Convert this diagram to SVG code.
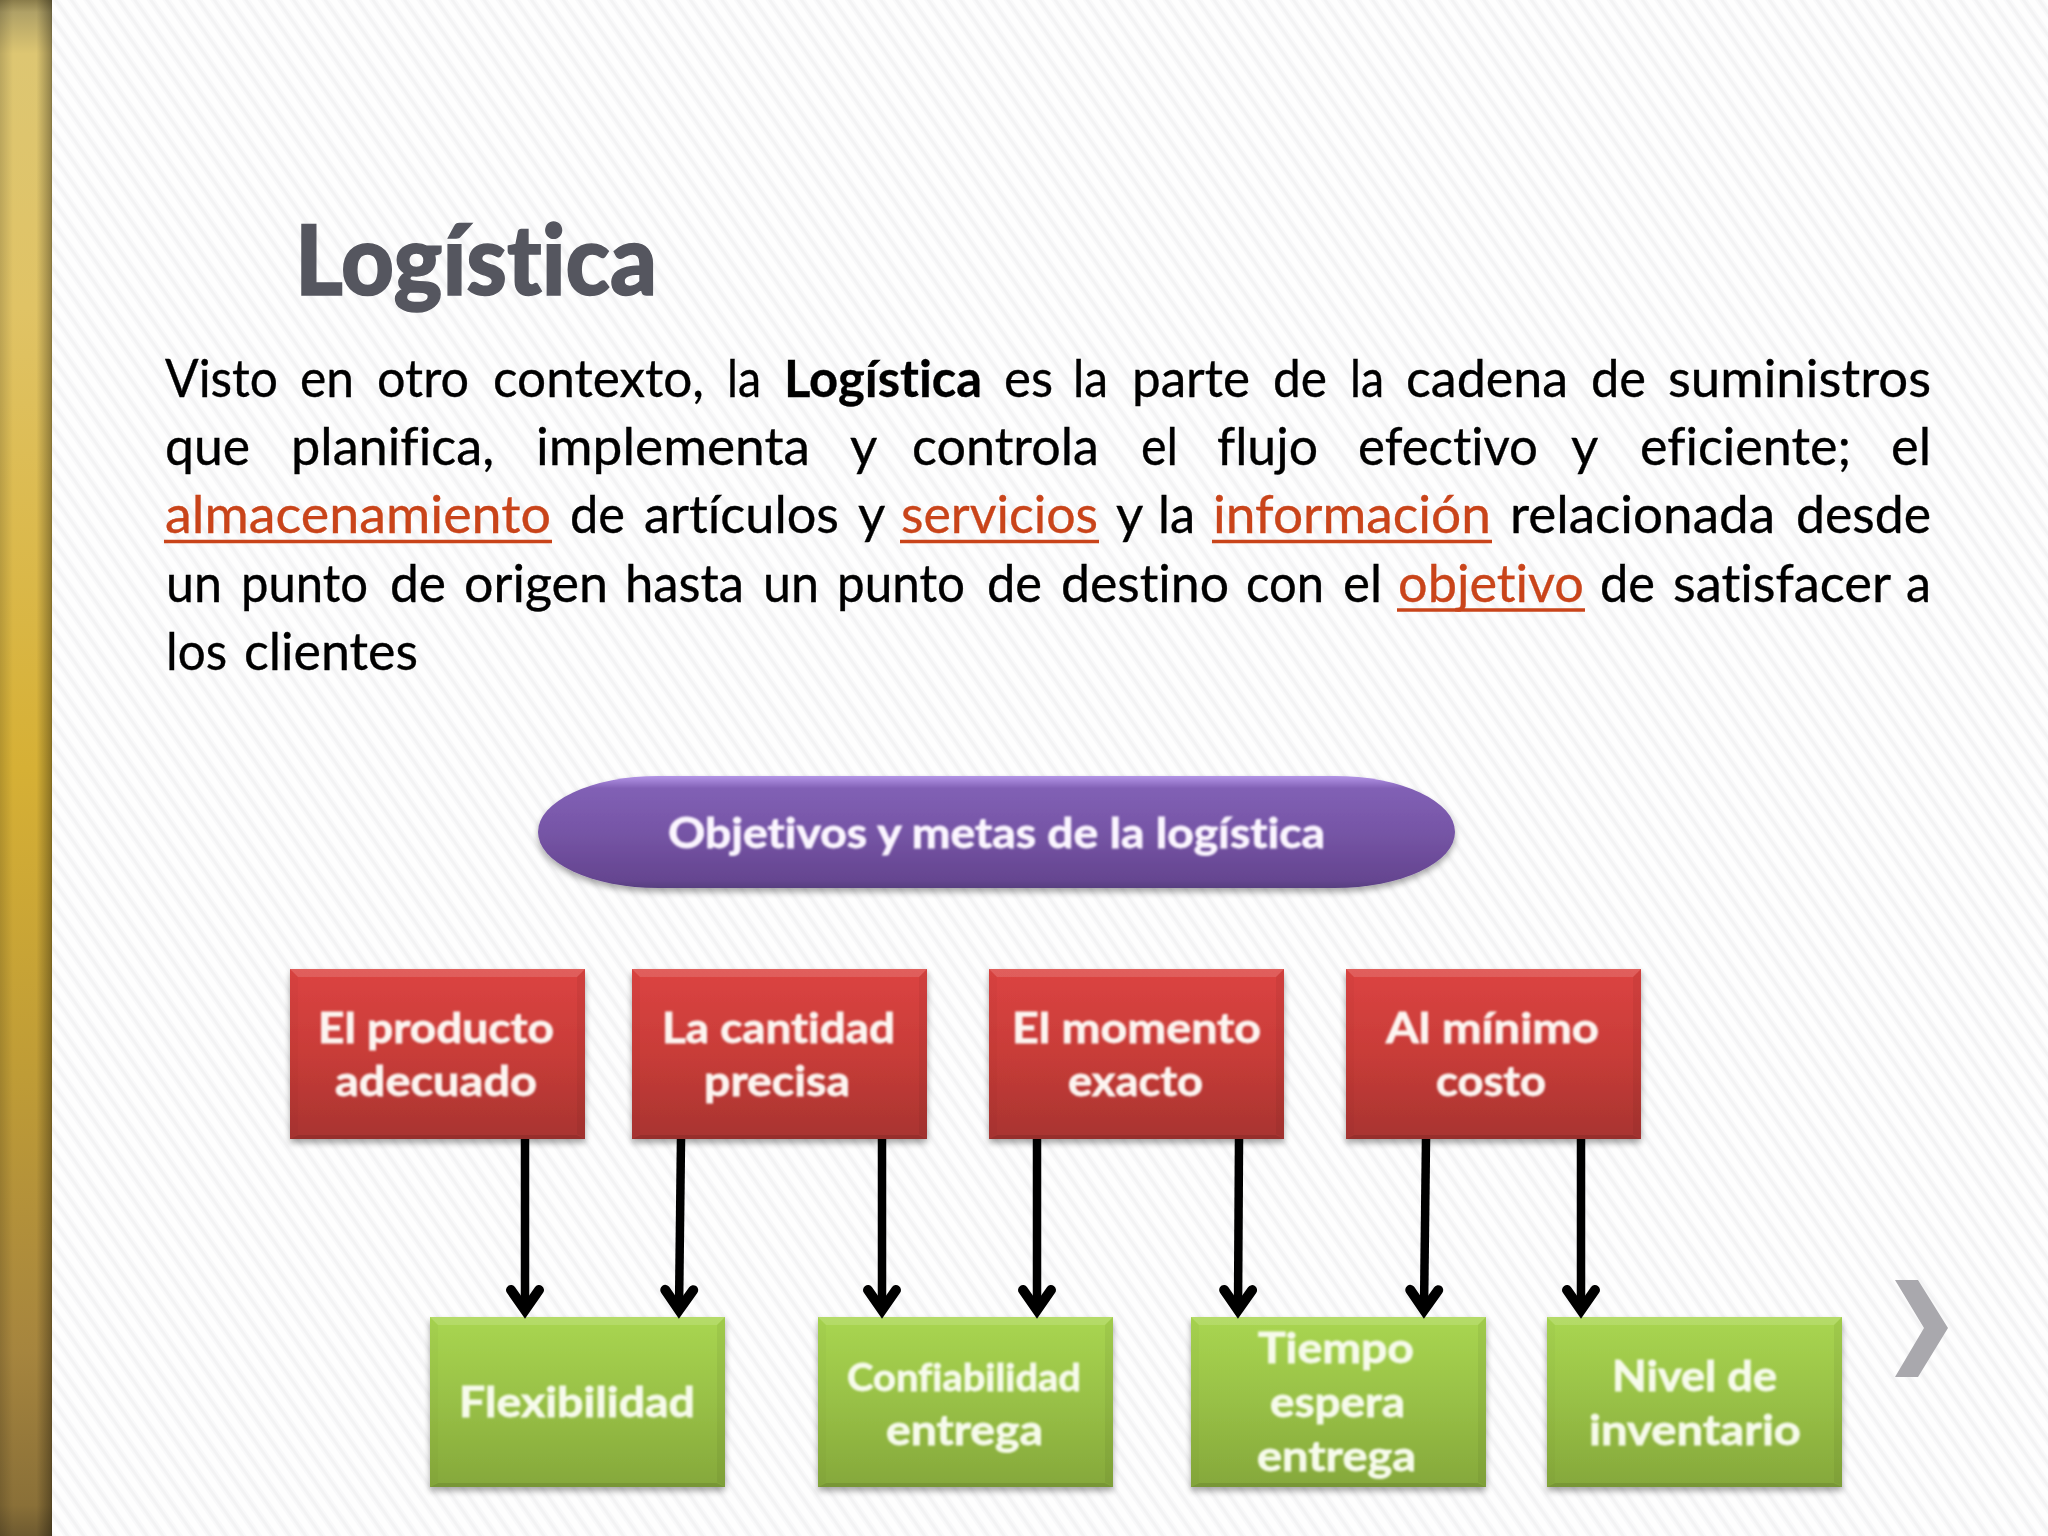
<svg xmlns="http://www.w3.org/2000/svg" width="2048" height="1536" viewBox="0 0 2048 1536">
<defs>
<style>
text{font-family:"Lato","Carlito","Liberation Sans",sans-serif;font-variant-ligatures:none}
.b{font-size:52.5px;fill:#000;stroke:#000;stroke-width:.35}
.l{fill:#C9441A;stroke:#C9441A}
.u{stroke:#C9441A;stroke-width:3.5}
.t{font-size:42px;font-weight:700;fill:#FDF4F0;stroke:#FDF4F0;stroke-width:.8;filter:url(#soft)}
.tg{fill:#F6FBEA;stroke:#F6FBEA}
.tp{fill:#FBF5FF;stroke:#FBF5FF}
.a{stroke:#000;stroke-width:8.5;fill:none;marker-end:url(#ah)}
.red{fill:url(#gr)}
.grn{fill:url(#gg)}
</style>
<pattern id="bg" width="13" height="13" patternUnits="userSpaceOnUse" patternTransform="rotate(-35)">
<rect width="13" height="13" fill="#FEFEFE"/><rect x="3" width="7" height="13" fill="#F9F9FA"/><rect x="5" width="3" height="13" fill="#F3F3F4"/>
</pattern>
<linearGradient id="bv" x1="0" y1="0" x2="0" y2="1">
<stop offset="0" stop-color="#8A7C4A"/><stop offset=".008" stop-color="#B0A166"/><stop offset=".035" stop-color="#DDC672"/><stop offset=".2" stop-color="#E0C365"/><stop offset=".5" stop-color="#D6B035"/><stop offset=".7" stop-color="#BF9C36"/><stop offset=".88" stop-color="#A6853E"/><stop offset=".98" stop-color="#8A7038"/><stop offset="1" stop-color="#6E5A30"/>
</linearGradient>
<linearGradient id="bh"><stop offset="0" stop-color="#000" stop-opacity=".16"/><stop offset=".25" stop-color="#000" stop-opacity="0"/><stop offset=".7" stop-color="#000" stop-opacity="0"/><stop offset=".97" stop-color="#000" stop-opacity=".32"/><stop offset="1" stop-color="#000" stop-opacity=".42"/></linearGradient>
<linearGradient id="gr" x1="0" y1="0" x2="0" y2="1"><stop offset="0" stop-color="#DC4442"/><stop offset=".5" stop-color="#C83C38"/><stop offset="1" stop-color="#A83430"/></linearGradient>
<linearGradient id="gg" x1="0" y1="0" x2="0" y2="1"><stop offset="0" stop-color="#A9D651"/><stop offset=".5" stop-color="#98C046"/><stop offset="1" stop-color="#85A83B"/></linearGradient>
<linearGradient id="gp" x1="0" y1="0" x2="0" y2="1"><stop offset="0" stop-color="#B295E6"/><stop offset=".035" stop-color="#A484D8"/><stop offset=".11" stop-color="#8160B5"/><stop offset=".5" stop-color="#7655A6"/><stop offset=".93" stop-color="#654590"/><stop offset="1" stop-color="#574080"/></linearGradient>
<filter id="soft" x="-5%" y="-20%" width="110%" height="140%"><feGaussianBlur stdDeviation=".9"/></filter>
<filter id="sh" x="-5%" y="-5%" width="110%" height="115%"><feGaussianBlur in="SourceAlpha" stdDeviation="3"/><feOffset dy="4"/><feComponentTransfer><feFuncA type="linear" slope=".35"/></feComponentTransfer><feMerge><feMergeNode/><feMergeNode in="SourceGraphic"/></feMerge></filter>
<g id="bevel">
<polygon points="0,0 295,0 287,8 8,8" fill="#fff" fill-opacity=".14"/>
<polygon points="0,0 8,8 8,165 0,170" fill="#000" fill-opacity=".02"/>
<polygon points="295,0 287,8 287,165 295,170" fill="#000" fill-opacity=".05"/>
<polygon points="0,170 8,166 287,166 295,170" fill="#000" fill-opacity=".1"/>
</g>
<marker id="ah" markerUnits="userSpaceOnUse" markerWidth="48" markerHeight="48" refX="32" refY="24" orient="auto" overflow="visible">
<path d="M12 10 L32 24 L12 38" fill="none" stroke="#000" stroke-width="10" stroke-linecap="round" stroke-miterlimit="8"/>
</marker>
</defs>
<rect width="2048" height="1536" fill="url(#bg)"/>
<rect width="52" height="1536" fill="url(#bv)"/>
<rect width="52" height="1536" fill="url(#bh)"/>
<text id="title" x="295" y="295" font-size="97" font-weight="900" fill="#55565F" stroke="#55565F" stroke-width="1.5" textLength="362" lengthAdjust="spacingAndGlyphs">Logística</text>
<g id="body">
<text class="b" y="397"><tspan x="165" textLength="113" lengthAdjust="spacingAndGlyphs">Visto</tspan> <tspan x="300" textLength="54" lengthAdjust="spacingAndGlyphs">en</tspan> <tspan x="377" textLength="92" lengthAdjust="spacingAndGlyphs">otro</tspan> <tspan x="493" textLength="211" lengthAdjust="spacingAndGlyphs">contexto,</tspan> <tspan x="727" textLength="34" lengthAdjust="spacingAndGlyphs">la</tspan> <tspan x="784" textLength="198" lengthAdjust="spacingAndGlyphs" font-weight="700">Logística</tspan> <tspan x="1004" textLength="49" lengthAdjust="spacingAndGlyphs">es</tspan> <tspan x="1073" textLength="35" lengthAdjust="spacingAndGlyphs">la</tspan> <tspan x="1132" textLength="118" lengthAdjust="spacingAndGlyphs">parte</tspan> <tspan x="1273" textLength="54" lengthAdjust="spacingAndGlyphs">de</tspan> <tspan x="1350" textLength="34" lengthAdjust="spacingAndGlyphs">la</tspan> <tspan x="1406" textLength="162" lengthAdjust="spacingAndGlyphs">cadena</tspan> <tspan x="1591" textLength="55" lengthAdjust="spacingAndGlyphs">de</tspan> <tspan x="1668" textLength="263" lengthAdjust="spacingAndGlyphs">suministros</tspan></text>
<text class="b" y="465"><tspan x="165" textLength="85" lengthAdjust="spacingAndGlyphs">que</tspan> <tspan x="291" textLength="203" lengthAdjust="spacingAndGlyphs">planifica,</tspan> <tspan x="536" textLength="274" lengthAdjust="spacingAndGlyphs">implementa</tspan> <tspan x="850" textLength="26" lengthAdjust="spacingAndGlyphs">y</tspan> <tspan x="912" textLength="187" lengthAdjust="spacingAndGlyphs">controla</tspan> <tspan x="1141" textLength="37" lengthAdjust="spacingAndGlyphs">el</tspan> <tspan x="1217" textLength="101" lengthAdjust="spacingAndGlyphs">flujo</tspan> <tspan x="1358" textLength="180" lengthAdjust="spacingAndGlyphs">efectivo</tspan> <tspan x="1571" textLength="26" lengthAdjust="spacingAndGlyphs">y</tspan> <tspan x="1640" textLength="211" lengthAdjust="spacingAndGlyphs">eficiente;</tspan> <tspan x="1891" textLength="40" lengthAdjust="spacingAndGlyphs">el</tspan></text>
<text class="b" y="533"><tspan class="l" x="165" textLength="386" lengthAdjust="spacingAndGlyphs">almacenamiento</tspan> <tspan x="570" textLength="55" lengthAdjust="spacingAndGlyphs">de</tspan> <tspan x="644" textLength="195" lengthAdjust="spacingAndGlyphs">artículos</tspan> <tspan x="858" textLength="26" lengthAdjust="spacingAndGlyphs">y</tspan> <tspan class="l" x="901" textLength="197" lengthAdjust="spacingAndGlyphs">servicios</tspan> <tspan x="1116" textLength="26" lengthAdjust="spacingAndGlyphs">y</tspan> <tspan x="1158" textLength="37" lengthAdjust="spacingAndGlyphs">la</tspan> <tspan class="l" x="1213" textLength="278" lengthAdjust="spacingAndGlyphs">información</tspan> <tspan x="1510" textLength="265" lengthAdjust="spacingAndGlyphs">relacionada</tspan> <tspan x="1796" textLength="135" lengthAdjust="spacingAndGlyphs">desde</tspan></text>
<text class="b" y="602"><tspan x="166" textLength="56" lengthAdjust="spacingAndGlyphs">un</tspan> <tspan x="241" textLength="127" lengthAdjust="spacingAndGlyphs">punto</tspan> <tspan x="390" textLength="56" lengthAdjust="spacingAndGlyphs">de</tspan> <tspan x="464" textLength="144" lengthAdjust="spacingAndGlyphs">origen</tspan> <tspan x="625" textLength="119" lengthAdjust="spacingAndGlyphs">hasta</tspan> <tspan x="763" textLength="56" lengthAdjust="spacingAndGlyphs">un</tspan> <tspan x="837" textLength="128" lengthAdjust="spacingAndGlyphs">punto</tspan> <tspan x="987" textLength="55" lengthAdjust="spacingAndGlyphs">de</tspan> <tspan x="1061" textLength="168" lengthAdjust="spacingAndGlyphs">destino</tspan> <tspan x="1246" textLength="78" lengthAdjust="spacingAndGlyphs">con</tspan> <tspan x="1343" textLength="39" lengthAdjust="spacingAndGlyphs">el</tspan> <tspan class="l" x="1398" textLength="186" lengthAdjust="spacingAndGlyphs">objetivo</tspan> <tspan x="1600" textLength="55" lengthAdjust="spacingAndGlyphs">de</tspan> <tspan x="1673" textLength="217" lengthAdjust="spacingAndGlyphs">satisfacer</tspan> <tspan x="1906" textLength="25" lengthAdjust="spacingAndGlyphs">a</tspan></text>
<text class="b" y="670"><tspan x="166" textLength="61" lengthAdjust="spacingAndGlyphs">los</tspan> <tspan x="244" textLength="174" lengthAdjust="spacingAndGlyphs">clientes</tspan></text>
<line class="u" x1="164" y1="541.5" x2="552" y2="541.5"/>
<line class="u" x1="900" y1="541.5" x2="1099" y2="541.5"/>
<line class="u" x1="1212" y1="541.5" x2="1492" y2="541.5"/>
<line class="u" x1="1397" y1="610" x2="1585" y2="610"/>
</g>
<g id="n-objetivos" filter="url(#sh)">
<rect x="538" y="776" width="917" height="112" rx="120" ry="56" fill="url(#gp)"/>
<text class="t tp" x="668" y="848" textLength="657" lengthAdjust="spacingAndGlyphs">Objetivos y metas de la logística</text>
</g>
<g id="n-producto"><rect class="red" x="290" y="969" width="295" height="170" filter="url(#sh)"/><use href="#bevel" x="290" y="969"/>
<text class="t" x="318" y="1043" textLength="236" lengthAdjust="spacingAndGlyphs">El producto</text><text class="t" x="335" y="1096" textLength="202" lengthAdjust="spacingAndGlyphs">adecuado</text></g>
<g id="n-cantidad"><rect class="red" x="632" y="969" width="295" height="170" filter="url(#sh)"/><use href="#bevel" x="632" y="969"/>
<text class="t" x="662" y="1043" textLength="233" lengthAdjust="spacingAndGlyphs">La cantidad</text><text class="t" x="704" y="1096" textLength="146" lengthAdjust="spacingAndGlyphs">precisa</text></g>
<g id="n-momento"><rect class="red" x="989" y="969" width="295" height="170" filter="url(#sh)"/><use href="#bevel" x="989" y="969"/>
<text class="t" x="1012" y="1043" textLength="249" lengthAdjust="spacingAndGlyphs">El momento</text><text class="t" x="1068" y="1096" textLength="135" lengthAdjust="spacingAndGlyphs">exacto</text></g>
<g id="n-costo"><rect class="red" x="1346" y="969" width="295" height="170" filter="url(#sh)"/><use href="#bevel" x="1346" y="969"/>
<text class="t" x="1386" y="1043" textLength="213" lengthAdjust="spacingAndGlyphs">Al mínimo</text><text class="t" x="1436" y="1096" textLength="110" lengthAdjust="spacingAndGlyphs">costo</text></g>
<g id="n-flexibilidad"><rect class="grn" x="430" y="1317" width="295" height="170" filter="url(#sh)"/><use href="#bevel" x="430" y="1317"/>
<text class="t tg" x="459" y="1417" textLength="236" lengthAdjust="spacingAndGlyphs">Flexibilidad</text></g>
<g id="n-confiabilidad"><rect class="grn" x="818" y="1317" width="295" height="170" filter="url(#sh)"/><use href="#bevel" x="818" y="1317"/>
<text class="t tg" x="847" y="1391" textLength="234" lengthAdjust="spacingAndGlyphs" style="font-size:38px">Confiabilidad</text><text class="t tg" x="886" y="1445" textLength="157" lengthAdjust="spacingAndGlyphs">entrega</text></g>
<g id="n-tiempo"><rect class="grn" x="1191" y="1317" width="295" height="170" filter="url(#sh)"/><use href="#bevel" x="1191" y="1317"/>
<text class="t tg" x="1258" y="1363" textLength="156" lengthAdjust="spacingAndGlyphs">Tiempo</text><text class="t tg" x="1270" y="1417" textLength="135" lengthAdjust="spacingAndGlyphs">espera</text><text class="t tg" x="1257" y="1471" textLength="159" lengthAdjust="spacingAndGlyphs">entrega</text></g>
<g id="n-inventario"><rect class="grn" x="1547" y="1317" width="295" height="170" filter="url(#sh)"/><use href="#bevel" x="1547" y="1317"/>
<text class="t tg" x="1612" y="1391" textLength="165" lengthAdjust="spacingAndGlyphs">Nivel de</text><text class="t tg" x="1589" y="1445" textLength="212" lengthAdjust="spacingAndGlyphs">inventario</text></g>
<g id="connectors">
<line class="a" x1="525" y1="1139" x2="525" y2="1310"/>
<line class="a" x1="681" y1="1139" x2="679" y2="1310"/>
<line class="a" x1="882" y1="1139" x2="882" y2="1310"/>
<line class="a" x1="1037" y1="1139" x2="1037" y2="1310"/>
<line class="a" x1="1239" y1="1139" x2="1238" y2="1310"/>
<line class="a" x1="1426" y1="1139" x2="1424" y2="1310"/>
<line class="a" x1="1581" y1="1139" x2="1581" y2="1310"/>
</g>
<polygon id="next" points="1895,1280 1918,1280 1948,1328 1918,1377 1895,1377 1924,1328" fill="#A9A8AD"/>
</svg>
